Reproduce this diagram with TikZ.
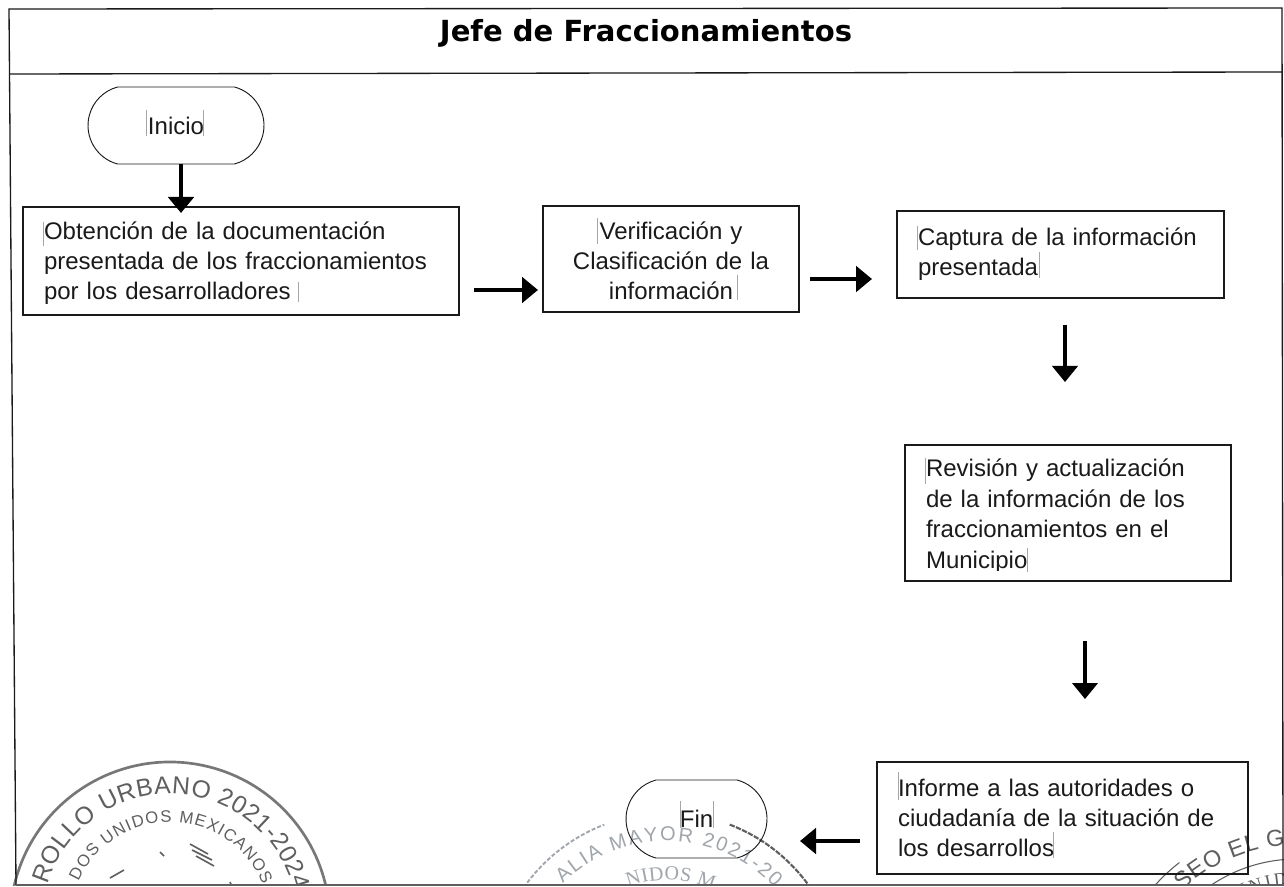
\documentclass[tikz,border=0pt]{standalone}
\usepackage{fontspec}
\setmainfont{Liberation Sans}
\newfontfamily\titlefont{DejaVu Sans}
\newfontfamily\serifstamp{Liberation Serif}
\usetikzlibrary{arrows.meta,shapes.misc,decorations.text}
\definecolor{ink}{HTML}{1A1A1A}
\definecolor{stampgray}{HTML}{5F5F5F}
\definecolor{stamplight}{HTML}{A0A5AB}
\newcommand\leadin[1]{\rule{0pt}{#1}}
\tikzset{
  txt/.style={font=\fontsize{18}{22.4}\selectfont,text=ink},
  boxnode/.style={draw=ink,line width=1.2pt,inner sep=0pt,txt},
  term/.style={draw=ink,line width=0.7pt,rounded rectangle,txt,inner sep=0pt},
  heavy/.style={-{Triangle[length=12pt,width=19pt]},line width=3pt,draw=black},
  thin arrow/.style={-{Triangle[length=12pt,width=19pt]},line width=2.3pt,draw=black},
  cursor/.style={draw=gray!70,line width=0.4pt},
  ring/.style={draw=stampgray,line width=1.6pt},
}
\begin{document}
\begin{tikzpicture}[x=0.75pt,y=-0.75pt]
\useasboundingbox (0,0) rectangle (1284,887);
\fill[white] (0,0) rectangle (1284,887);

% stamps, clipped by the bottom edge
\begin{scope}
\clip (0,0) rectangle (1284,885);
% stamp 1
\begin{scope}[shift={(170,922)},y=0.75pt]
  \draw[ring,line width=2pt,stampgray!85] (0,0) ++(168:160) arc[start angle=168,end angle=12,radius=160];
  \path[postaction={decorate,decoration={text along path,text align=fit to path,
     text={|\fontsize{18.5}{20}\selectfont\color{stampgray}|ROLLO URBANO 2021-2024}}}]
     (0,0) ++(163:128) arc[start angle=163,end angle=14,radius=128];
  \path[postaction={decorate,decoration={text along path,text align=fit to path,
     text={|\fontsize{12.5}{14}\selectfont\color{stampgray}|DOS UNIDOS MEXICANOS}}}]
     (0,0) ++(156:100) arc[start angle=156,end angle=22,radius=100];
  \draw[stampgray,line width=1.2pt] (20,78)--(38,68) (22,72)--(42,62) (26,66)--(44,56) (-60,44)--(-46,52) (60,40)--(66,26) (-10,70)--(-6,66);
\end{scope}
% stamp 2
\begin{scope}[shift={(667,988)},y=0.75pt]
  \draw[stampgray,line width=1.6pt,dash pattern=on 4pt off 1pt] (0,0) ++(69:175) arc[start angle=69,end angle=36,radius=175];
  \draw[stamplight,line width=1.4pt,dash pattern=on 3pt off 1.5pt] (0,0) ++(143:175) arc[start angle=143,end angle=111,radius=175];
  \path[postaction={decorate,decoration={text along path,text align=fit to path,
     text={|\fontsize{15}{15}\selectfont\color{stamplight}|ALIA MAYOR 2021-20}}}]
     (0,0) ++(135:147) arc[start angle=135,end angle=43,radius=147];
  \path[postaction={decorate,decoration={text along path,text align=fit to path,
     text={|\serifstamp\fontsize{15}{15}\selectfont\color{stamplight}|NIDOS M}}}]
     (0,0) ++(111:108) arc[start angle=111,end angle=65,radius=108];
\end{scope}
% stamp 3
\begin{scope}[shift={(1297,1013)},y=0.75pt]
  \draw[stampgray,line width=0.8pt] (0,0) ++(138:191) arc[start angle=138,end angle=128,radius=191];
  \draw[stampgray,line width=0.8pt] (0,0) ++(125:154) arc[start angle=125,end angle=84,radius=154];
  \path[postaction={decorate,decoration={text along path,text align=fit to path,
     text={|\fontsize{17.5}{18}\selectfont\color{stampgray}|SEO EL G}}}]
     (0,0) ++(133:168) arc[start angle=133,end angle=94,radius=168];
  \path[postaction={decorate,decoration={text along path,text align=fit to path,
     text={|\serifstamp\fontsize{14}{14}\selectfont\color{stampgray}|UNIDO}}}]
     (0,0) ++(118:128) arc[start angle=118,end angle=87,radius=128];
\end{scope}
\end{scope}

% frame
\draw[ink,line width=1pt] (16,885) -- (9,9) -- (1282,8) -- (1283,885);
\draw[ink,line width=1pt] (10,74) -- (1282,72);
\draw[stampgray,line width=1.4pt] (16,885) -- (1284,885);
\node[font=\titlefont\bfseries\fontsize{21.8}{24}\selectfont,text=black,inner sep=0pt] (title) at (646,33) {Jefe de Fraccionamientos};

% terminals
\node[term,minimum width=176*0.75pt,minimum height=77*0.75pt,rounded rectangle arc length=150] (inicio) at (176,125.5) {Inicio};
\node[term,minimum width=141*0.75pt,minimum height=78*0.75pt,rounded rectangle arc length=150] (fin) at (696.5,819) {Fin};

% boxes
\node[boxnode,minimum width=436*0.75pt,minimum height=108*0.75pt,text width=394*0.75pt,align=left] (b1) at (241,261) {\leadin{16pt}Obtención de la documentación\\presentada de los fraccionamientos\\por los desarrolladores};
\node[boxnode,minimum width=256*0.75pt,minimum height=106*0.75pt,text width=240*0.75pt,align=center] (b2) at (671,259) {\leadin{16pt}Verificación y\hspace*{12pt}\\Clasificación de la\\información};
\node[boxnode,minimum width=327*0.75pt,minimum height=87*0.75pt,text width=285*0.75pt,align=left] (b3) at (1060.5,254.5) {Captura de la información\\presentada};
\node[boxnode,font=\fontsize{18}{23}\selectfont,minimum width=326*0.75pt,minimum height=136*0.75pt,text width=284*0.75pt,align=left] (b4) at (1068,513) {\leadin{18pt}Revisión y actualización\\de la información de los\\fraccionamientos en el\\Municipio};
\node[boxnode,minimum width=371*0.75pt,minimum height=112*0.75pt,text width=329*0.75pt,align=left] (b5) at (1062.5,818) {Informe a las autoridades o\\ciudadanía de la situación de\\los desarrollos};

% clip the descenders of the last line of b4, as printed
\fill[white] (926,571) rectangle (1040,579.5);

% free ends
\coordinate (a2s) at (474,290);
\coordinate (a3s) at (810,279);
\coordinate (a3e) at (872,279);
\coordinate (a4s) at (1065,325);
\coordinate (a4e) at (1065,382);
\coordinate (a5s) at (1085,641);
\coordinate (a5e) at (1085,699);
\coordinate (a6s) at (860,841);
\coordinate (a6e) at (800,841);
\coordinate (a1e) at (181,213);
\coordinate (a2e) at (538,290);

% connectors
\draw[heavy] (inicio.south -| a1e) -- (a1e);
\draw[heavy] (a2s) -- (a2e);
\draw[heavy] (a3s) -- (a3e);
\draw[thin arrow] (a4s) -- (a4e);
\draw[thin arrow] (a5s) -- (a5e);
\draw[heavy] (a6s) -- (a6e);

% text-box cursor marks
\draw[cursor] (146,110)--(146,136) (203,110)--(203,136)
 (43,222)--(43,246) (298,282)--(298,302)
 (597,218)--(597,244) (737,275)--(737,300)
 (917,226)--(917,250) (1039,252)--(1039,278)
 (925,458)--(925,484) (1027,548)--(1027,572)
 (898,772)--(898,800) (1053,832)--(1053,858)
 (680,801)--(680,828) (713,801)--(713,828);
\end{tikzpicture}
\end{document}
